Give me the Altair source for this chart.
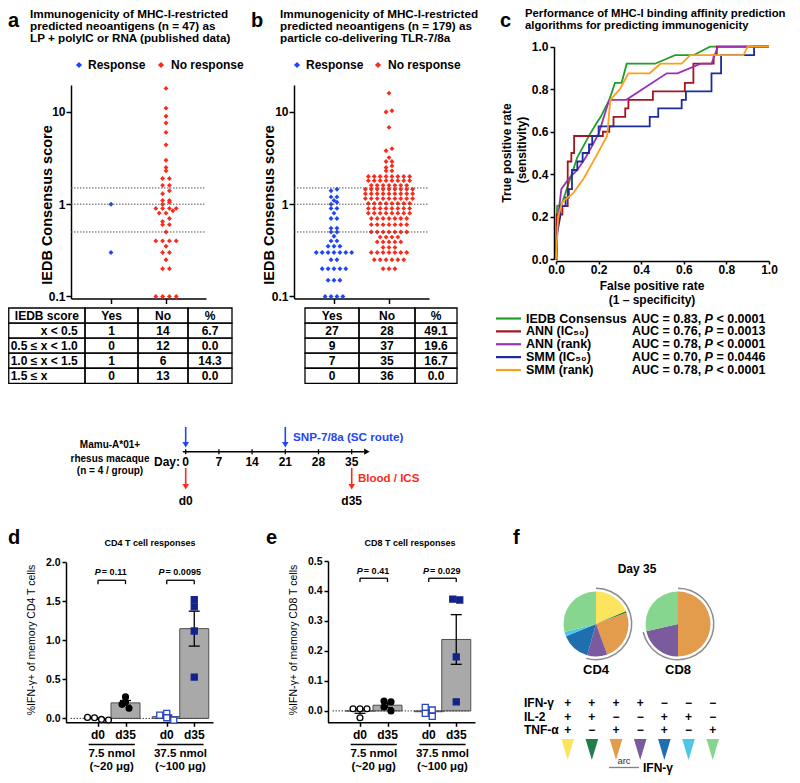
import altair as alt
import numpy as np
import pandas as pd

W, H = 784, 767
FONT = "Liberation Sans"
BLUE = "#1f45fc"
RED = "#fb2a1b"
NAVY = "#13238c"
NAVY_OPEN = "#2b45c2"

# ---------------- data: panel a / b (IEDB consensus scores) ----------------
A_RESPONSE = [1.0, 0.3]
A_NO_RESPONSE = [18, 11, 9, 7.6, 6, 4.4, 3, 2.5, 2.3, 1.9, 1.9, 1.6, 1.6,
                 1.4, 1.3, 1.1, 1.1, 1.05, 1.0,
                 0.9, 0.9, 0.9, 0.9, 0.85, 0.8, 0.8, 0.7, 0.65, 0.6, 0.6, 0.5,
                 0.4, 0.4, 0.4, 0.4, 0.35, 0.3, 0.3, 0.25, 0.2, 0.2, 0.1, 0.1, 0.1, 0.1]
B_RESPONSE = [1.45, 1.4, 1.2, 1.2, 1.1, 1.05, 1.0,
              0.9, 0.9, 0.8, 0.7, 0.7, 0.55, 0.55, 0.5, 0.5,
              0.45, 0.4, 0.4, 0.35, 0.35, 0.35, 0.3, 0.3, 0.3, 0.3, 0.3, 0.3, 0.3,
              0.25, 0.25, 0.2, 0.2, 0.2, 0.2, 0.2, 0.15, 0.15, 0.15, 0.1, 0.1, 0.1, 0.1]
B_NO_RESPONSE = [16, 10.3, 10.0, 6.8, 4.0, 3.8, 3.2, 2.9, 2.9, 2.6, 2.5, 2.3, 2.3,
                 2.0, 2.0, 2.0, 2.0, 2.0, 2.0, 2.0, 2.0,
                 1.8, 1.8, 1.8, 1.8, 1.8, 1.8, 1.8, 1.8,
                 1.6, 1.6, 1.6, 1.6, 1.6, 1.6, 1.6,
                 1.45, 1.45, 1.45, 1.45, 1.45, 1.45, 1.45, 1.45, 1.45,
                 1.3, 1.3, 1.3, 1.3, 1.3, 1.3, 1.3, 1.3, 1.3,
                 1.15, 1.15, 1.15, 1.15, 1.15, 1.15, 1.15, 1.15, 1.15,
                 1.02, 1.02, 1.02, 1.02, 1.02, 1.02, 1.02, 1.02,
                 0.9, 0.9, 0.9, 0.9, 0.9, 0.9, 0.9, 0.9,
                 0.8, 0.8, 0.8, 0.8, 0.8, 0.8, 0.8, 0.8,
                 0.7, 0.7, 0.7, 0.7, 0.7, 0.7, 0.7,
                 0.6, 0.6, 0.6, 0.6, 0.6, 0.6, 0.6,
                 0.5, 0.5, 0.5, 0.5, 0.5, 0.5, 0.5,
                 0.44, 0.44, 0.44, 0.44,
                 0.39, 0.39, 0.39, 0.39, 0.39,
                 0.34, 0.34, 0.34,
                 0.3, 0.3, 0.3, 0.3, 0.3, 0.3, 0.3,
                 0.25, 0.25, 0.25, 0.25, 0.25, 0.25,
                 0.2, 0.2, 0.2]
CUTOFFS = [0.5, 1.0, 1.5]

# tables
TAB_HEAD_A = ["IEDB score", "Yes", "No", "%"]
TAB_HEAD_B = ["Yes", "No", "%"]
RANGE_LEFT = ["", "0.5 ≤", "1.0 ≤", "1.5 ≤"]
RANGE_RIGHT = ["x < 0.5", "x < 1.0", "x < 1.5", "x"]
A_YES = [1, 0, 1, 0]
A_NO = [14, 12, 6, 13]
B_YES = [27, 9, 7, 0]
B_NO = [28, 37, 35, 36]

# ---------------- data: panel c (ROC) ----------------
ROC_NAMES = ["IEDB Consensus", "ANN (IC₅₀)", "ANN (rank)", "SMM (IC₅₀)", "SMM (rank)"]
ROC_COLORS = ["#1f9e2a", "#a3161c", "#9b30b0", "#1c2c9e", "#ff9e1b"]
ROC_AUC = ["AUC = 0.83,", "AUC = 0.76,", "AUC = 0.78,", "AUC = 0.70,", "AUC = 0.78,"]
ROC_P = ["< 0.0001", "= 0.0013", "< 0.0001", "= 0.0446", "< 0.0001"]
IEDB_FPR = [0, 0.005, 0.027, 0.10, 0.16, 0.19, 0.21, 0.25, 0.277, 0.308, 0.332, 0.465, 0.559, 0.645, 0.723, 1.0]
IEDB_TPR = [0, 0.25, 0.26, 0.48, 0.59, 0.64, 0.67, 0.75, 0.83, 0.83, 0.92, 0.92, 0.96, 0.96, 1.0, 1.0]
ANN_IC50_FPR = [0, 0.003, 0.003, 0.03, 0.03, 0.055, 0.055, 0.072, 0.072, 0.085, 0.085, 0.22, 0.22, 0.25, 0.25,
                0.27, 0.27, 0.325, 0.325, 0.34, 0.34, 0.455, 0.455, 0.605, 0.605, 0.645, 0.645, 0.74, 0.74,
                0.755, 0.755, 1.0]
ANN_IC50_TPR = [0, 0, 0.21, 0.21, 0.25, 0.25, 0.46, 0.46, 0.5, 0.5, 0.58, 0.58, 0.6, 0.6, 0.625, 0.625,
                0.67, 0.67, 0.71, 0.71, 0.75, 0.75, 0.79, 0.79, 0.83, 0.83, 0.92, 0.92, 0.96, 0.96, 1.0, 1.0]
ANN_RANK_FPR = [0, 0.01, 0.025, 0.06, 0.10, 0.14, 0.20, 0.25, 0.33, 0.52, 0.57, 0.68, 0.73, 0.76, 1.0]
ANN_RANK_TPR = [0, 0.2, 0.33, 0.38, 0.42, 0.48, 0.59, 0.75, 0.75, 0.875, 0.875, 0.92, 0.92, 1.0, 1.0]
SMM_IC50_FPR = [0, 0.005, 0.02, 0.02, 0.045, 0.045, 0.06, 0.06, 0.075, 0.075, 0.10, 0.10, 0.125, 0.125,
                0.155, 0.155, 0.17, 0.17, 0.20, 0.20, 0.44, 0.44, 0.48, 0.48, 0.59, 0.59, 0.61, 0.61,
                0.73, 0.73, 0.775, 0.775, 0.93, 0.93, 1.0]
SMM_IC50_TPR = [0, 0.12, 0.2, 0.25, 0.25, 0.29, 0.29, 0.33, 0.33, 0.42, 0.42, 0.46, 0.46, 0.5, 0.5, 0.54,
                0.54, 0.58, 0.58, 0.625, 0.625, 0.67, 0.67, 0.71, 0.71, 0.75, 0.75, 0.79, 0.79, 0.875,
                0.875, 0.96, 0.96, 1.0, 1.0]
SMM_RANK_FPR = [0, 0.01, 0.03, 0.08, 0.13, 0.18, 0.24, 0.255, 0.30, 0.34, 0.44, 0.49, 0.59, 0.63, 0.88, 0.90, 1.0]
SMM_RANK_TPR = [0, 0.2, 0.27, 0.31, 0.38, 0.47, 0.58, 0.75, 0.80, 0.875, 0.875, 0.92, 0.92, 0.96, 0.96, 1.0, 1.0]
ROC_SERIES = [(IEDB_FPR, IEDB_TPR), (ANN_IC50_FPR, ANN_IC50_TPR), (ANN_RANK_FPR, ANN_RANK_TPR),
              (SMM_IC50_FPR, SMM_IC50_TPR), (SMM_RANK_FPR, SMM_RANK_TPR)]

# ---------------- data: timeline ----------------
DAYS = [0, 7, 14, 21, 28, 35]
INJECT_DAYS = [0, 21]
BLOOD_DAYS = [0, 35]
BLOOD_LABELS = ["d0", "d35"]

# ---------------- data: panels d / e ----------------
POS = [1.0, 2.0, 3.5, 4.5]
CD4_G1_D0 = [0.013, 0.008, -0.013, -0.02]
CD4_G1_D35 = [0.21, 0.275, 0.18, 0.13]
CD4_G2_D0 = [0.064, 0.042, 0.008, -0.022]
CD4_G2_D35 = [1.52, 1.43, 1.12, 0.53]
CD8_G1_D0 = [0.007, 0.007, 0.007, -0.023]
CD8_G1_D35 = [0.033, 0.03, 0.013, 0.0]
CD8_G2_D0 = [0.003, 0.012, -0.008, -0.018]
CD8_G2_D35 = [0.373, 0.37, 0.18, 0.03]
CD4_P = ["0.11", "0.0095"]
CD8_P = ["0.41", "0.029"]
TIME_LABELS = ["d0", "d35", "d0", "d35"]
DOSE_LABELS = ["7.5 nmol", "37.5 nmol"]
MASS_LABELS = ["(~20 μg)", "(~100 μg)"]

# ---------------- data: panel f ----------------
F_CATS = ["+++", "++-", "+-+", "+--", "-++", "-+-", "--+"]
F_COLORS = ["#fde45e", "#237d4b", "#e39b4c", "#7a5b9e", "#1f6fb0", "#4ec6e6", "#86d68f"]
F_IFN = ["+", "+", "+", "+", "−", "−", "−"]
F_IL2 = ["+", "+", "−", "−", "+", "+", "−"]
F_TNF = ["+", "−", "+", "−", "+", "−", "+"]
F_ROWS = ["IFN-γ", "IL-2", "TNF-α"]
CD4_FRACTIONS = [0.186, 0.008, 0.25, 0.10, 0.144, 0.022, 0.29]
CD8_FRACTIONS = [0.0, 0.0, 0.5, 0.214, 0.0, 0.0, 0.286]


def cx(X):
    return X - 8.0


def cy(Y):
    return Y - 8.0


CW = {".": 0.278, " ": 0.278, "=": 0.584, "<": 0.584, "P": 0.667, "A": 0.722, "U": 0.722,
      "C": 0.722, ",": 0.278}


def tw(s, size):
    return sum(CW.get(ch, 0.556) for ch in s) * size


def axis(orient, offset, values=None, fmt=None, labels=True, size=12, tick=4, pad=2):
    kw = dict(orient=orient, offset=offset, title=None, grid=False,
              domainColor="black", domainWidth=1.5, tickColor="black", tickWidth=1.5,
              tickSize=tick, labels=labels, labelFont=FONT, labelFontSize=size,
              labelFontWeight="bold", labelColor="black", labelPadding=pad,
              labelFlush=False, labelOverlap=False, labelBound=False)
    if values is not None:
        kw["values"] = values
    if fmt is not None:
        kw["format"] = fmt
    return alt.Axis(**kw)


def txt(s, x, y, size=11, weight="bold", color="black", align="center", angle=0,
        style="normal", baseline="middle"):
    return alt.Chart().mark_text(text=s, font=FONT, fontSize=size, fontWeight=weight, color=color,
                                 align=align, baseline=baseline, angle=angle, fontStyle=style
                                 ).encode(x=alt.value(x), y=alt.value(y))


def swarm_offsets(py, dh, thr, descending=False):
    py = np.asarray(py, dtype=float)
    order = list(np.argsort(py, kind="stable"))
    rows, cur = [], [order[0]]
    for i in order[1:]:
        if py[i] - py[cur[0]] < thr:
            cur.append(i)
        else:
            rows.append(cur)
            cur = [i]
    rows.append(cur)
    offs = np.zeros(len(py))
    for r in rows:
        if descending:
            r = sorted(r, key=lambda i: -py[i])
        n = len(r)
        for k, i in enumerate(r):
            offs[i] = (k - (n - 1) / 2.0) * dh
    return offs


# ---------------- panel a / b ----------------
def swarm_panel(resp, noresp, X0, dh):
    xdom = [0.273, 2.727]
    xs = alt.Scale(domain=xdom, range=[cx(X0), cx(X0 + 135)], zero=False, nice=False)
    ys = alt.Scale(type="log", domain=[0.095, 19.6], range=[cy(298.5), cy(85)], nice=False)
    rows = []
    for grp, vals, pos in (("Response", resp, 1.0), ("No response", noresp, 2.0)):
        vals = np.asarray(vals, dtype=float)
        off = swarm_offsets(92.0 * np.log10(vals), dh, 3.0)
        for v, o in zip(vals, off):
            rows.append({"grp": grp, "v": float(v), "x": pos + o / 55.0})
    df = pd.DataFrame(rows)
    cut = pd.DataFrame({"c": CUTOFFS, "x0": xdom[0], "x1": xdom[1]})
    pts = alt.Chart(df).mark_point(shape="diamond", filled=True, size=24, opacity=1).encode(
        x=alt.X("x:Q", scale=xs, axis=axis("bottom", cy(298.5) - H, values=[1, 2], labels=False, tick=5)),
        y=alt.Y("v:Q", scale=ys, axis=axis("left", -cx(X0), values=[0.1, 1, 10], fmt="~g",
                                           size=12, tick=5, pad=1)),
        color=alt.Color("grp:N", scale=alt.Scale(domain=["Response", "No response"], range=[BLUE, RED]),
                        legend=None))
    dots = alt.Chart(cut).mark_rule(color="#555555", strokeWidth=1, strokeDash=[1.5, 1.5]).encode(
        x=alt.X("x0:Q", scale=xs), x2="x1:Q", y=alt.Y("c:Q", scale=ys))
    return alt.layer(pts, dots)


def table_panel(edges_X, head, first_split, cols):
    x_edges = [e - edges_X[0] for e in edges_X]
    xs = alt.Scale(domain=[0, x_edges[-1]], range=[cx(edges_X[0]), cx(edges_X[-1])], nice=False, zero=False)
    ys = alt.Scale(domain=[0, 5], range=[cy(308), cy(383.3)], nice=False, zero=False)
    ncol = len(x_edges) - 1
    cells = pd.DataFrame([{"x0": x_edges[c], "x1": x_edges[c + 1], "y0": r, "y1": r + 1}
                          for r in range(5) for c in range(ncol)])
    rect = alt.Chart(cells).mark_rect(fill="white", fillOpacity=0, stroke="black", strokeWidth=1.3).encode(
        x=alt.X("x0:Q", scale=xs, axis=None), x2="x1:Q",
        y=alt.Y("y0:Q", scale=ys, axis=None), y2="y1:Q")
    trows = []
    for c in range(ncol):
        xc = (x_edges[c] + x_edges[c + 1]) / 2.0
        trows.append({"t": head[c], "x": xc, "y": 0.5})
    start = 1 if first_split else 0
    for j, colvals in enumerate(cols):
        c = j + start
        xc = (x_edges[c] + x_edges[c + 1]) / 2.0
        for r, val in enumerate(colvals):
            trows.append({"t": val, "x": xc, "y": r + 1.5})
    tdf = pd.DataFrame(trows)
    layers = [rect, alt.Chart(tdf).mark_text(font=FONT, fontSize=12, fontWeight="bold", color="black").encode(
        x=alt.X("x:Q", scale=xs, axis=None), y=alt.Y("y:Q", scale=ys, axis=None), text="t:N")]
    if first_split:
        left, right = first_split
        ldf = pd.DataFrame({"t": left, "x": 28.5, "y": [r + 1.5 for r in range(4)]})
        rdf = pd.DataFrame({"t": right, "x": 32.0, "y": [r + 1.5 for r in range(4)]})
        layers.append(alt.Chart(ldf).mark_text(font=FONT, fontSize=12, fontWeight="bold", align="right",
                                               color="black").encode(
            x=alt.X("x:Q", scale=xs, axis=None), y=alt.Y("y:Q", scale=ys, axis=None), text="t:N"))
        layers.append(alt.Chart(rdf).mark_text(font=FONT, fontSize=12, fontWeight="bold", align="left",
                                               color="black").encode(
            x=alt.X("x:Q", scale=xs, axis=None), y=alt.Y("y:Q", scale=ys, axis=None), text="t:N"))
    return alt.layer(*layers)


def pct(yes, no):
    return [f"{100.0 * y / (y + n):.1f}" for y, n in zip(yes, no)]


# ---------------- panel c ----------------
def roc_panel():
    xs = alt.Scale(domain=[0, 1], range=[cx(556), cx(769)], nice=False, zero=False)
    ys = alt.Scale(domain=[0, 1], range=[cy(259.3), cy(46.7)], nice=False, zero=False)
    ticks = [0, 0.2, 0.4, 0.6, 0.8, 1.0]
    layers = []
    for i, (name, col, (f, t)) in enumerate(zip(ROC_NAMES, ROC_COLORS, ROC_SERIES)):
        df = pd.DataFrame({"k": range(len(f)), "fpr": f, "tpr": t})
        if i == 0:
            enc = dict(x=alt.X("fpr:Q", scale=xs, axis=axis("bottom", cy(261) - H, values=ticks, fmt=".1f",
                                                              size=12, tick=3, pad=0)),
                       y=alt.Y("tpr:Q", scale=ys, axis=axis("left", -cx(554), values=ticks, fmt=".1f",
                                                             size=12, pad=2)))
        else:
            enc = dict(x=alt.X("fpr:Q", scale=xs), y=alt.Y("tpr:Q", scale=ys))
        layers.append(alt.Chart(df).mark_line(color=col, strokeWidth=1.8).encode(order="k:Q", **enc))
    return alt.layer(*layers)


def roc_legend():
    leg = pd.DataFrame({"k": range(5), "name": ROC_NAMES, "auc": ROC_AUC, "p": ROC_P, "P": "P"})
    ly = alt.Scale(domain=[0, 4], range=[cy(318.5), cy(370)], nice=False, zero=False)
    cs = alt.Scale(domain=ROC_NAMES, range=ROC_COLORS)
    layers = [alt.Chart(leg).mark_rule(strokeWidth=2.2).encode(
        x=alt.value(cx(496)), x2=alt.value(cx(521)),
        y=alt.Y("k:Q", scale=ly, axis=None), color=alt.Color("name:N", scale=cs, legend=None))]
    fs = 12.5
    xp = 632 + tw("AUC = 0.83, ", fs)
    xr = xp + tw("P ", fs)
    for field, X, style in (("name", 526, "normal"), ("auc", 632, "normal"), ("P", xp, "italic"),
                            ("p", xr, "normal")):
        layers.append(alt.Chart(leg).mark_text(font=FONT, fontSize=fs, fontWeight="bold", align="left",
                                               color="black", fontStyle=style).encode(
            x=alt.value(cx(X)), y=alt.Y("k:Q", scale=ly, axis=None), text=f"{field}:N"))
    return alt.layer(*layers)


# ---------------- timeline ----------------
def timeline_panel():
    tx = alt.Scale(domain=[0, 35], range=[cx(185.7), cx(351.7)], nice=False, zero=False)
    ly = cy(451.7)
    line = alt.Chart(pd.DataFrame({"a": [-0.6], "b": [37.6]})).mark_rule(color="black", strokeWidth=1.5).encode(
        x=alt.X("a:Q", scale=tx, axis=None), x2="b:Q", y=alt.value(ly))
    head = alt.Chart(pd.DataFrame({"a": [38.2]})).mark_point(shape="triangle-right", filled=True, size=40,
                                                             color="black", opacity=1).encode(
        x=alt.X("a:Q", scale=tx, axis=None), y=alt.value(ly))
    ddf = pd.DataFrame({"d": DAYS, "lab": [str(d) for d in DAYS]})
    ticks = alt.Chart(ddf).mark_rule(color="black", strokeWidth=1.3).encode(
        x=alt.X("d:Q", scale=tx, axis=None), y=alt.value(cy(449.3)), y2=alt.value(cy(454.3)))
    labs = alt.Chart(ddf).mark_text(font=FONT, fontSize=12, fontWeight="bold", color="black").encode(
        x=alt.X("d:Q", scale=tx, axis=None), y=alt.value(cy(462)), text="lab:N")
    idf = pd.DataFrame({"d": INJECT_DAYS})
    bshaft = alt.Chart(idf).mark_rule(color=BLUE, strokeWidth=1.6).encode(
        x=alt.X("d:Q", scale=tx, axis=None), y=alt.value(cy(427)), y2=alt.value(cy(442)))
    bhead = alt.Chart(idf).mark_point(shape="triangle-down", filled=True, size=42, color=BLUE, opacity=1).encode(
        x=alt.X("d:Q", scale=tx, axis=None), y=alt.value(cy(444.8)))
    sdf = pd.DataFrame({"d": BLOOD_DAYS, "lab": BLOOD_LABELS})
    rshaft = alt.Chart(sdf).mark_rule(color=RED, strokeWidth=1.6).encode(
        x=alt.X("d:Q", scale=tx, axis=None), y=alt.value(cy(468)), y2=alt.value(cy(484)))
    rhead = alt.Chart(sdf).mark_point(shape="triangle-down", filled=True, size=42, color=RED, opacity=1).encode(
        x=alt.X("d:Q", scale=tx, axis=None), y=alt.value(cy(486.8)))
    dl = alt.Chart(sdf).mark_text(font=FONT, fontSize=12, fontWeight="bold", color="black").encode(
        x=alt.X("d:Q", scale=tx, axis=None), y=alt.value(cy(500.7)), text="lab:N")
    return alt.layer(line, head, ticks, labs, bshaft, bhead, rshaft, rhead, dl)


# ---------------- panels d / e ----------------
def tcell_panel(X_axis, ydom, ytop_Y, yvals, groups, pvals):
    xs = alt.Scale(domain=[0, 5], range=[cx(X_axis - 0.5), cx(X_axis + 147)], nice=False, zero=False)
    ys = alt.Scale(domain=ydom, range=[cy(722.3), cy(ytop_Y)], nice=False, zero=False)
    ppu = (722.3 - ytop_Y) / (ydom[1] - ydom[0])
    means = [float(np.mean(g)) for g in groups]
    sems = [float(np.std(g, ddof=1) / np.sqrt(len(g))) for g in groups]
    bdf = pd.DataFrame({"pos": POS, "mean": means, "zero": 0.0,
                        "lo": [m - s for m, s in zip(means, sems)],
                        "hi": [m + s for m, s in zip(means, sems)],
                        "cl": [p - 0.2 for p in POS], "cr": [p + 0.2 for p in POS]})
    X = lambda f: alt.X(f, scale=xs)
    Y = lambda f: alt.Y(f, scale=ys)
    layers = []
    zdf = pd.DataFrame({"z": [0.0], "x0": [0.0], "x1": [5.0]})
    layers.append(alt.Chart(bdf).mark_bar(size=29, color="#a9a9a9", stroke="#505050", strokeWidth=1).encode(
        x=alt.X("pos:Q", scale=xs, axis=axis("bottom", cy(722.3) - H, values=POS, labels=False)),
        y=alt.Y("mean:Q", scale=ys, axis=axis("left", -cx(X_axis), values=yvals, fmt=".1f", size=10.5)),
        y2="zero:Q"))
    layers.append(alt.Chart(zdf).mark_rule(color="#444444", strokeWidth=1, strokeDash=[1.5, 1.5]).encode(
        x=X("x0:Q"), x2="x1:Q", y=Y("z:Q")))
    layers.append(alt.Chart(bdf).mark_rule(color="black", strokeWidth=1.3).encode(
        x=X("pos:Q"), y=Y("lo:Q"), y2="hi:Q"))
    for f in ("lo", "hi"):
        layers.append(alt.Chart(bdf).mark_rule(color="black", strokeWidth=1.3).encode(
            x=X("cl:Q"), x2="cr:Q", y=Y(f"{f}:Q")))
    styles = [("circle", "white", "black", 34), ("circle", "black", "black", 34),
              ("square", "white", NAVY_OPEN, 36), ("square", NAVY, NAVY, 36)]
    for vals, pos, (shape, fill, stroke, size) in zip(groups, POS, styles):
        off = swarm_offsets(np.asarray(vals) * ppu, 7.5, 5.0, descending=True)
        pdf = pd.DataFrame({"v": vals, "x": [pos + o / 29.5 for o in off]})
        layers.append(alt.Chart(pdf).mark_point(shape=shape, filled=True, fill=fill, stroke=stroke,
                                                strokeWidth=1.3, size=size, opacity=1).encode(
            x=X("x:Q"), y=Y("v:Q")))
    top = ydom[1]
    lev, bot, tlev = top * 0.885, top * 0.885 - top * 0.025, top * 0.935
    br = pd.DataFrame({"a": [POS[0], POS[2]], "b": [POS[1], POS[3]], "lev": lev, "bot": bot})
    layers.append(alt.Chart(br).mark_rule(color="black", strokeWidth=1.3).encode(
        x=X("a:Q"), x2="b:Q", y=Y("lev:Q")))
    for f in ("a", "b"):
        layers.append(alt.Chart(br).mark_rule(color="black", strokeWidth=1.3).encode(
            x=X(f"{f}:Q"), y=Y("lev:Q"), y2="bot:Q"))
    for j, p in enumerate(pvals):
        rest = " = " + p
        total = tw("P" + rest, 9)
        start = -total / 2.0
        pdf = pd.DataFrame({"x": [(POS[2 * j] + POS[2 * j + 1]) / 2.0], "y": [tlev], "P": ["P"], "r": [rest]})
        layers.append(alt.Chart(pdf).mark_text(font=FONT, fontSize=9, fontWeight="bold", fontStyle="italic",
                                               align="left", dx=start, color="black").encode(
            x=X("x:Q"), y=Y("y:Q"), text="P:N"))
        layers.append(alt.Chart(pdf).mark_text(font=FONT, fontSize=9, fontWeight="bold",
                                               align="left", dx=start + tw("P", 9) + 1, color="black").encode(
            x=X("x:Q"), y=Y("y:Q"), text="r:N"))
    ldf = pd.DataFrame({"x": POS, "t": TIME_LABELS})
    layers.append(alt.Chart(ldf).mark_text(font=FONT, fontSize=12, fontWeight="bold", color="black").encode(
        x=X("x:Q"), y=alt.value(727), text="t:N"))
    udf = pd.DataFrame({"a": [0.66, 3.16], "b": [2.34, 4.84]})
    layers.append(alt.Chart(udf).mark_rule(color="black", strokeWidth=1.4).encode(
        x=X("a:Q"), x2="b:Q", y=alt.value(736.5)))
    gdf = pd.DataFrame({"x": [1.5, 4.0], "d": DOSE_LABELS, "m": MASS_LABELS})
    layers.append(alt.Chart(gdf).mark_text(font=FONT, fontSize=11.5, fontWeight="bold", color="black").encode(
        x=X("x:Q"), y=alt.value(745.5), text="d:N"))
    layers.append(alt.Chart(gdf).mark_text(font=FONT, fontSize=11.5, fontWeight="bold", color="black").encode(
        x=X("x:Q"), y=alt.value(759), text="m:N"))
    return alt.layer(*layers)


# ---------------- panel f ----------------
def pie_panel():
    ts = alt.Scale(domain=[0, 1], range=[0, 2 * np.pi])
    cs = alt.Scale(domain=F_CATS, range=F_COLORS)
    layers = []
    for fr, X in ((CD4_FRACTIONS, 596), (CD8_FRACTIONS, 678)):
        df = pd.DataFrame({"cat": F_CATS, "k": range(7), "frac": fr})
        layers.append(alt.Chart(df).mark_arc(radius=32.5).encode(
            theta=alt.Theta("frac:Q", stack=True, scale=ts),
            order=alt.Order("k:Q"),
            color=alt.Color("cat:N", scale=cs, legend=None),
            x=alt.value(cx(X)), y=alt.value(cy(624))))
        ifn = sum(f for f, s in zip(fr, F_IFN) if s == "+")
        adf = pd.DataFrame({"s": [0.0], "e": [ifn]})
        layers.append(alt.Chart(adf).mark_arc(radius=36.5, radius2=35, color="#8c8c8c").encode(
            theta=alt.Theta("s:Q", scale=ts, stack=False), theta2="e:Q",
            x=alt.value(cx(X)), y=alt.value(cy(624))))
    return alt.layer(*layers)


def pie_legend():
    cs = alt.Scale(domain=F_CATS, range=F_COLORS)
    fx = alt.Scale(domain=[0, 6], range=[cx(567.7), cx(712.7)], nice=False, zero=False)
    fy = alt.Scale(domain=[0, 2], range=[cy(703), cy(730)], nice=False, zero=False)
    sdf = pd.DataFrame([{"k": k, "r": r, "s": s}
                        for r, row in enumerate((F_IFN, F_IL2, F_TNF)) for k, s in enumerate(row)])
    signs = alt.Chart(sdf).mark_text(font=FONT, fontSize=12, fontWeight="bold", color="black").encode(
        x=alt.X("k:Q", scale=fx, axis=None), y=alt.Y("r:Q", scale=fy, axis=None), text="s:N")
    rdf = pd.DataFrame({"r": [0, 1, 2], "lab": F_ROWS})
    rows = alt.Chart(rdf).mark_text(font=FONT, fontSize=12, fontWeight="bold", color="black",
                                    align="left").encode(
        x=alt.value(cx(524)), y=alt.Y("r:Q", scale=fy, axis=None), text="lab:N")
    tdf = pd.DataFrame({"k": range(7), "cat": F_CATS})
    tri = alt.Chart(tdf).mark_point(shape="M-0.6,-1L0.6,-1L0,1Z", filled=True, size=441, opacity=1).encode(
        x=alt.X("k:Q", scale=fx, axis=None), y=alt.value(cy(749.5)),
        color=alt.Color("cat:N", scale=cs, legend=None))
    return alt.layer(signs, rows, tri)


# ---------------- assemble ----------------
layers = [
    swarm_panel(A_RESPONSE, A_NO_RESPONSE, 71, 6.8),
    swarm_panel(B_RESPONSE, B_NO_RESPONSE, 294, 5.9),
    table_panel([8.75, 85, 138, 188, 232], TAB_HEAD_A, (RANGE_LEFT, RANGE_RIGHT),
                [[str(v) for v in A_YES], [str(v) for v in A_NO], pct(A_YES, A_NO)]),
    table_panel([305, 359, 415, 457], TAB_HEAD_B, None,
                [[str(v) for v in B_YES], [str(v) for v in B_NO], pct(B_YES, B_NO)]),
    roc_panel(),
    roc_legend(),
    timeline_panel(),
    tcell_panel(66, [-0.05, 2.0], 562.3, [0, 0.5, 1.0, 1.5, 2.0],
                [CD4_G1_D0, CD4_G1_D35, CD4_G2_D0, CD4_G2_D35], CD4_P),
    tcell_panel(328, [-0.038, 0.5], 561, [0, 0.1, 0.2, 0.3, 0.4, 0.5],
                [CD8_G1_D0, CD8_G1_D35, CD8_G2_D0, CD8_G2_D35], CD8_P),
    pie_panel(),
    pie_legend(),
]

# panel letters (canvas coordinates) and titles
for s, x, y in (("a", 0, 19), ("b", 243, 19), ("c", 492, 19), ("d", 0, 536), ("e", 258, 536),
                ("f", 505, 536)):
    layers.append(txt(s, x, y, size=20, align="left", baseline="alphabetic"))
title_a = ["Immunogenicity of MHC-I-restricted", "predicted neoantigens (n = 47) as",
           "LP + polyIC or RNA (published data)"]
title_b = ["Immunogenicity of MHC-I-restricted", "predicted neoantigens (n = 179) as",
           "particle co-delivering TLR-7/8a"]
for lines, X in ((title_a, 30), (title_b, 280)):
    for i, s in enumerate(lines):
        layers.append(txt(s, cx(X), cy(14 + 11.8 * i), size=11.7, align="left"))
title_c = ["Performance of MHC-I binding affinity prediction", "algorithms for predicting immunogenicity"]
for i, s in enumerate(title_c):
    layers.append(txt(s, cx(525), cy(14 + 11.8 * i), size=11.3, align="left"))

# legends a / b
for X0, X1 in ((79, 161), (297, 378)):
    layers.append(alt.Chart().mark_point(shape="diamond", filled=True, size=38, color=BLUE, opacity=1).encode(
        x=alt.value(cx(X0)), y=alt.value(cy(65))))
    layers.append(alt.Chart().mark_point(shape="diamond", filled=True, size=38, color=RED, opacity=1).encode(
        x=alt.value(cx(X1)), y=alt.value(cy(65))))
    layers.append(txt("Response", cx(X0 + 9), cy(65), size=12, align="left"))
    layers.append(txt("No response", cx(X1 + 10), cy(65), size=12, align="left"))

# axis titles
layers.append(txt("IEDB Consensus score", cx(47.5), cy(205), size=14.5, angle=270))
layers.append(txt("IEDB Consensus score", cx(270), cy(205), size=14.5, angle=270))
layers.append(txt("True positive rate", cx(507), cy(153), size=12, angle=270))
layers.append(txt("(sensitivity)", cx(521.5), cy(150), size=12, angle=270))
layers.append(txt("False positive rate", cx(652), cy(285.5), size=12))
layers.append(txt("(1 – specificity)", cx(652), cy(299.5), size=12))

# timeline texts
layers.append(txt("Mamu-A*01+", cx(110), cy(445), size=10))
layers.append(txt("rhesus macaque", cx(110), cy(458.5), size=10))
layers.append(txt("(n = 4 / group)", cx(110), cy(471), size=10))
layers.append(txt("Day:", cx(180), cy(462), size=12, align="right"))
layers.append(txt("SNP-7/8a (SC route)", cx(293), cy(437), size=11.7, color=BLUE, align="left"))
layers.append(txt("Blood / ICS", cx(358), cy(479), size=11.5, color=RED, align="left"))

# d / e texts
layers.append(txt("CD4 T cell responses", cx(150), cy(543), size=9))
layers.append(txt("CD8 T cell responses", cx(410), cy(543), size=9))
layers.append(txt("%IFN-γ+ of memory CD4 T cells", cx(32), cy(640), size=10.5, weight="normal", angle=270))
layers.append(txt("%IFN-γ+ of memory CD8 T cells", cx(294), cy(640), size=10.5, weight="normal", angle=270))

# f texts
layers.append(txt("Day 35", cx(637), cy(569), size=12))
layers.append(txt("CD4", cx(596), cy(670), size=13))
layers.append(txt("CD8", cx(678), cy(670), size=13))
layers.append(txt("arc", 616, 752.5, size=9.5, weight="normal", color="#333333"))
layers.append(alt.Chart().mark_rule(color="#808080", strokeWidth=1.3).encode(
    x=alt.value(601), x2=alt.value(631), y=alt.value(759.5)))
layers.append(txt("IFN-γ", 635, 759.5, size=12, align="left"))

chart = alt.layer(*layers).properties(
    width=W, height=H, padding=0, autosize=alt.AutoSizeParams(type="none")
).resolve_scale(
    x="independent", y="independent", color="independent", theta="independent"
).configure_view(strokeWidth=0)

chart.save("out.html", embed_options={"renderer": "svg", "actions": False})
